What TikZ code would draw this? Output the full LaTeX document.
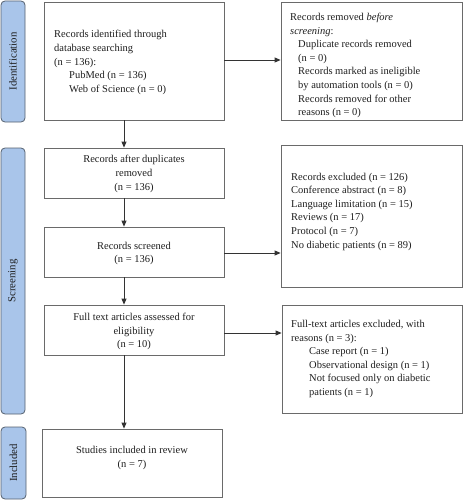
\documentclass[tikz,border=0pt]{standalone}
\usepackage{fontspec}
\setmainfont{Liberation Serif}
\usetikzlibrary{arrows.meta}
\definecolor{barblue}{HTML}{A9C5EA}
\definecolor{bargray}{HTML}{55606E}
\definecolor{boxgray}{HTML}{6A6A6A}
\definecolor{linegray}{HTML}{333333}
\definecolor{txtcol}{HTML}{1E1E1E}
\begin{document}
\begin{tikzpicture}[x=1pt,y=-1pt,
  box/.style={draw=boxgray, line width=0.8pt, inner sep=0pt},
  bar/.style={draw=bargray, fill=barblue, rounded corners=4pt, line width=0.8pt, inner sep=0pt},
  bartxt/.style={font=\fontsize{10.8}{12}\selectfont, text=txtcol, rotate=90, inner sep=0pt},
  arr/.style={-{Triangle[length=6pt,width=5pt]}, draw=linegray, line width=0.8pt},
  txt/.style={font=\fontsize{10.5}{13.6}\selectfont, text=txtcol, inner sep=0pt},
]
\useasboundingbox (0,0) rectangle (463,500);

% side bars
\node[bar, minimum width=24pt, minimum height=121pt] (b1) at (13,61.5) {};
\node[bartxt] (b1t) at (b1.center) {Identification};
\node[bar, minimum width=24pt, minimum height=266pt] (b2) at (13,281) {};
\node[bartxt] (b2t) at (b2.center) {Screening};
\node[bar, minimum width=25pt, minimum height=72pt] (b3) at (13.5,463) {};
\node[bartxt] (b3t) at (b3.center) {Included};

% left column boxes
\node[box, minimum width=180pt, minimum height=118pt] (n1) at (134,61) {};
\node[txt, anchor=west, align=left] (n1t) at (54,62.5) {Records identified through\\database searching\\(n = 136):\\\hspace*{15pt}PubMed (n = 136)\\\hspace*{15pt}Web of Science (n = 0)};

\node[box, minimum width=180pt, minimum height=50pt] (n2) at (134,173) {};
\node[txt, align=center] (n2t) at (134,174) {Records after duplicates\\removed\\(n = 136)};

\node[box, minimum width=180pt, minimum height=50pt] (n3) at (134,252) {};
\node[txt, align=center] (n3t) at (134,253.5) {Records screened\\(n = 136)};

\node[box, minimum width=180pt, minimum height=50pt] (n4) at (134,330) {};
\node[txt, align=center] (n4t) at (134,331.5) {Full text articles assessed for\\eligibility\\(n = 10)};

\node[box, minimum width=180pt, minimum height=68pt] (n5) at (132,463) {};
\node[txt, align=center] (n5t) at (132,458) {Studies included in review\\(n = 7)};

% right column boxes
\node[box, minimum width=181pt, minimum height=118pt] (r1) at (371.5,61) {};
\node[txt, anchor=west, align=left] (r1t) at (290,65.5) {Records removed \textit{before}\\\textit{screening}:\\\hspace*{8pt}Duplicate records removed\\\hspace*{8pt}(n = 0)\\\hspace*{8pt}Records marked as ineligible\\\hspace*{8pt}by automation tools (n = 0)\\\hspace*{8pt}Records removed for other\\\hspace*{8pt}reasons (n = 0)};

\node[box, minimum width=181pt, minimum height=142pt] (r2) at (371.5,216) {};
\node[txt, anchor=west, align=left] (r2t) at (291,211.5) {Records excluded (n = 126)\\Conference abstract (n = 8)\\Language limitation (n = 15)\\Reviews (n = 17)\\Protocol (n = 7)\\No diabetic patients (n = 89)};

\node[box, minimum width=180pt, minimum height=108pt] (r3) at (372,359) {};
\node[txt, anchor=west, align=left] (r3t) at (291,359) {Full-text articles excluded, with\\reasons (n = 3):\\\hspace*{18pt}Case report (n = 1)\\\hspace*{18pt}Observational design (n = 1)\\\hspace*{18pt}Not focused only on diabetic\\\hspace*{18pt}patients (n = 1)};

% arrows
\draw[arr] ([xshift=-10pt]n1.south) -- ([xshift=-10pt]n2.north);
\draw[arr] ([xshift=-10pt]n2.south) -- ([xshift=-10pt]n3.north);
\draw[arr] ([xshift=-10pt]n3.south) -- ([xshift=-10pt]n4.north);
\draw[arr] ([xshift=-10pt]n4.south) -- ([xshift=-8pt]n5.north);
\draw[arr] ([yshift=1pt]n1.east) -- ([yshift=1pt]n1.east -| r1.west);
\draw[arr] ([yshift=-1pt]n3.east) -- ([yshift=-1pt]n3.east -| r2.west);
\draw[arr] ([yshift=-3pt]n4.east) -- ([yshift=-3pt]n4.east -| r3.west);
\end{tikzpicture}
\end{document}
